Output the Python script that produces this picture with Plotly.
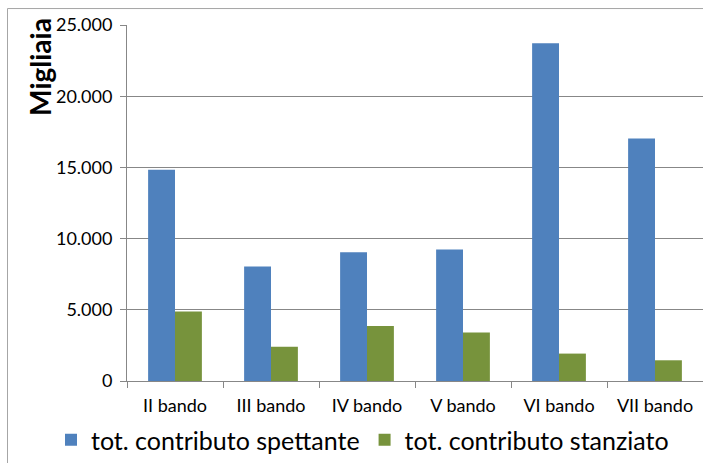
import plotly.graph_objects as go

categories = ["II bando", "III bando", "IV bando", "V bando", "VI bando", "VII bando"]
spettante = [14840, 8040, 9045, 9235, 23710, 17025]
stanziato = [4880, 2405, 3855, 3405, 1925, 1455]
series_names = ["tot. contributo spettante", "tot. contributo stanziato"]
y_ticks = [0, 5000, 10000, 15000, 20000, 25000]

FONT = "Lato"
L, T, R, B = 127, 25, 0, 81
W, H = 703, 463
PW, PH = W - L - R, H - T - B

def px_x(x):
    return (x - L) / PW

def px_y(y):
    return (H - B - y) / PH

fig = go.Figure()
fig.add_trace(go.Bar(x=categories, y=spettante, name=series_names[0],
                     marker=dict(color="#4F81BD", line=dict(width=0))))
fig.add_trace(go.Bar(x=categories, y=stanziato, name=series_names[1],
                     marker=dict(color="#77933C", line=dict(width=0))))

fig.update_layout(
    width=W, height=H,
    margin=dict(l=L, r=R, t=T, b=B),
    paper_bgcolor="white", plot_bgcolor="white",
    barmode="group", bargap=0.44, bargroupgap=0,
    separators=",.",
    font=dict(family=FONT, size=18, color="#000000"),
    legend=dict(orientation="h", x=px_x(51), y=px_y(441), xanchor="left", yanchor="middle",
                font=dict(family=FONT, size=25, color="#000000"),
                itemwidth=30, traceorder="normal", bgcolor="rgba(0,0,0,0)"),
    showlegend=True,
)

fig.update_xaxes(
    showline=True, linecolor="#878787", linewidth=1,
    ticks="outside", tickson="boundaries", ticklen=6, tickcolor="#878787",
    showgrid=False, ticklabelstandoff=8,
    tickfont=dict(family=FONT, size=18),
)
fig.update_yaxes(
    range=[0, 25000], tickvals=y_ticks, tickformat=",.0f",
    showline=True, linecolor="#878787", linewidth=1,
    ticks="outside", ticklen=6, tickcolor="#878787",
    showgrid=True, gridcolor="#878787", gridwidth=1,
    zeroline=False, ticklabelstandoff=4,
    tickfont=dict(family=FONT, size=18),
)

fig.add_annotation(text="<b>Migliaia</b>", xref="paper", yref="paper",
                   x=px_x(40), y=px_y(67), textangle=-90,
                   showarrow=False, font=dict(family=FONT, size=28, color="#000000"),
                   xanchor="center", yanchor="middle")

fig.add_shape(type="rect", xref="paper", yref="paper",
              x0=px_x(7.5), x1=1.2, y0=-0.6, y1=px_y(8.5),
              line=dict(color="#a6a6a6", width=1), fillcolor="rgba(0,0,0,0)", layer="below")

fig.write_html("out.html", config={"displayModeBar": False},
               post_script="document.body.style.margin='0';document.body.style.overflow='hidden';")
